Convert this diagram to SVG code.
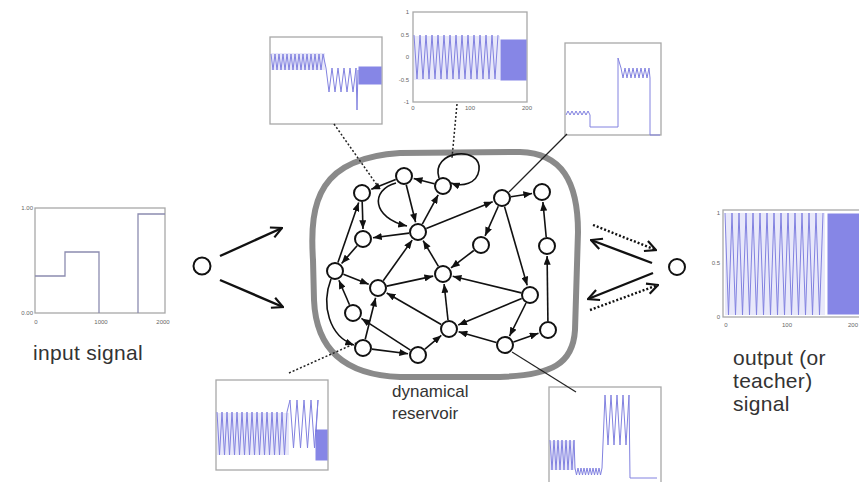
<svg xmlns="http://www.w3.org/2000/svg" width="859" height="482" viewBox="0 0 859 482">
<style>
.box{fill:#fff;stroke:#a8a8a8;stroke-width:1.3}
.sig{fill:none;stroke:#8282e0;stroke-width:1}
.blk{fill:#7272e2;stroke:#7272e2;stroke-width:1}
.lav{fill:#e8e8fa;stroke:none}
.ax{font-family:"Liberation Sans",Arial,sans-serif;font-size:6px;fill:#666}
.lbl{font-family:"Liberation Sans",Arial,sans-serif;font-size:21px;fill:#333;letter-spacing:0.3px}
.lbl2{font-family:"Liberation Sans",Arial,sans-serif;font-size:17px;fill:#333}
.node circle{fill:#fff;stroke:#111;stroke-width:2}
.e{fill:none;stroke:#111;stroke-width:1.6;marker-end:url(#ah)}
.big{fill:none;stroke:#111;stroke-width:2.4;marker-end:url(#av)}
.dot{fill:none;stroke:#222;stroke-width:1.5;stroke-dasharray:2,2}
.thin{fill:none;stroke:#222;stroke-width:1.2}
</style>
<defs>
<marker id="ah" viewBox="0 0 10 8" refX="10" refY="4" markerWidth="9" markerHeight="7" orient="auto" markerUnits="userSpaceOnUse">
<path d="M0,0 L10,4 L0,8 z" fill="#111"/>
</marker>
<marker id="av" viewBox="0 0 12 12" refX="11" refY="6" markerWidth="13" markerHeight="13" orient="auto" markerUnits="userSpaceOnUse">
<path d="M1,1 L11,6 L1,11" fill="none" stroke="#111" stroke-width="2"/>
</marker>
</defs>

<!-- reservoir boundary -->
<path id="reservoir" d="M313,260 C309,200 320,158 400,153 L520,152 C562,153 578,182 578,232 L575,330 C573,364 552,375 500,377 L400,377 C345,375 316,350 314,300 Z" fill="none" stroke="#8a8a8a" stroke-width="6"/>

<!-- input plot -->
<g id="plot-input">
<rect class="box" x="35" y="208" width="130" height="105"/>
<path d="M35,276 L65,276 L65,252 L99,252 L99,313" fill="none" stroke="#8c8cb0" stroke-width="1.3"/>
<path d="M138,313 L138,214 L165,214" fill="none" stroke="#8c8cb0" stroke-width="1.3"/>
<text class="ax" x="33" y="210" text-anchor="end">1.00</text>
<text class="ax" x="33" y="315" text-anchor="end">0.00</text>
<text class="ax" x="36" y="324" text-anchor="middle">0</text>
<text class="ax" x="101" y="324" text-anchor="middle">1000</text>
<text class="ax" x="163" y="324" text-anchor="middle">2000</text>
</g>
<text class="lbl" x="33" y="360">input signal</text>

<!-- input node -->
<g id="input-node" class="node"><circle cx="202" cy="266" r="8.5"/></g>

<!-- output node -->
<g id="output-node" class="node"><circle cx="677" cy="267" r="8"/></g>

<!-- output plot -->
<g id="plot-output">
<rect class="box" x="723" y="210" width="140" height="107"/>
<rect class="lav" x="725" y="213" width="100" height="102"/>
<path class="sig" stroke-width="1.6" d="M725,213 l3.5,102 l3.5,-102 l3.5,102 l3.5,-102 l3.5,102 l3.5,-102 l3.5,102 l3.5,-102 l3.5,102 l3.5,-102 l3.5,102 l3.5,-102 l3.5,102 l3.5,-102 l3.5,102 l3.5,-102 l3.5,102 l3.5,-102 l3.5,102 l3.5,-102 l3.5,102 l3.5,-102 l3.5,102 l3.5,-102 l3.5,102 l3.5,-102 l3.5,102 l3.5,-102"/>
<rect class="blk" x="828" y="214" width="31" height="100" opacity="0.85"/>
<text class="ax" x="720" y="215" text-anchor="end">1</text>
<text class="ax" x="720" y="265" text-anchor="end">0.5</text>
<text class="ax" x="720" y="319" text-anchor="end">0</text>
<text class="ax" x="726" y="327" text-anchor="middle">0</text>
<text class="ax" x="787" y="327" text-anchor="middle">100</text>
<text class="ax" x="858" y="327" text-anchor="end">200</text>
</g>
<text class="lbl" x="733" y="365">output (or</text>
<text class="lbl" x="733" y="388">teacher)</text>
<text class="lbl" x="733" y="411">signal</text>

<!-- reservoir activation plots -->
<g id="plot-top-left">
<rect class="box" x="270" y="37" width="112" height="87"/>
<rect class="lav" x="271" y="53" width="54" height="17"/>
<path class="sig" d="M271,54 l2,16 l2,-16 l2,16 l2,-16 l2,16 l2,-16 l2,16 l2,-16 l2,16 l2,-16 l2,16 l2,-16 l2,16 l2,-16 l2,16 l2,-16 l2,16 l2,-16 l2,16 l2,-16 l2,16 l2,-16 l2,16 l2,-16 l2,16 l2,-16 L326,68 l3,24 l3,-24 l3,24 l3,-24 l3,24 l3,-24 l3,24 l3,-24 l3,24 l3,-24 L357,110 L358,70"/>
<rect class="blk" x="359" y="67" width="22" height="17" opacity="0.85"/>
</g>

<g id="plot-top-center">
<rect class="box" x="413" y="12" width="114" height="90"/>
<rect class="lav" x="414" y="36" width="86" height="44"/>
<path class="sig" d="M414,35 l3,44 l3,-44 l3,44 l3,-44 l3,44 l3,-44 l3,44 l3,-44 l3,44 l3,-44 l3,44 l3,-44 l3,44 l3,-44 l3,44 l3,-44 l3,44 l3,-44 l3,44 l3,-44 l3,44 l3,-44 l3,44 l3,-44 l3,44 l3,-44 l3,44 l3,-44"/>
<rect class="blk" x="501" y="40" width="25" height="40" opacity="0.85"/>
<text class="ax" x="409" y="14" text-anchor="end">1</text>
<text class="ax" x="409" y="37" text-anchor="end">0.5</text>
<text class="ax" x="409" y="59" text-anchor="end">0</text>
<text class="ax" x="409" y="82" text-anchor="end">-0.5</text>
<text class="ax" x="409" y="104" text-anchor="end">-1</text>
<text class="ax" x="413" y="110" text-anchor="middle">0</text>
<text class="ax" x="470" y="110" text-anchor="middle">100</text>
<text class="ax" x="527" y="110" text-anchor="middle">200</text>
</g>

<g id="plot-top-right">
<rect class="box" x="565" y="43" width="96" height="92"/>
<path class="sig" d="M566,115 l2,-4 l2,4 l2,-4 l2,4 l2,-4 l2,4 l2,-4 l2,4 l2,-4 l2,4 l2,-4 l2,4 L590,127 L618,127 L618,58 L621,68 l2,10 l2,-10 l2,10 l2,-10 l2,10 l2,-10 l2,10 l2,-10 l2,10 l2,-10 l2,10 l2,-10 l2,10 l2,-10 L650,78 L650,135 L660,135"/>
</g>

<g id="plot-bottom-left">
<rect class="box" x="216" y="380" width="112" height="90"/>
<rect class="lav" x="217" y="413" width="72" height="42"/>
<path class="sig" d="M217,412 l2.5,43 l2.5,-43 l2.5,43 l2.5,-43 l2.5,43 l2.5,-43 l2.5,43 l2.5,-43 l2.5,43 l2.5,-43 l2.5,43 l2.5,-43 l2.5,43 l2.5,-43 l2.5,43 l2.5,-43 l2.5,43 l2.5,-43 l2.5,43 l2.5,-43 l2.5,43 l2.5,-43 l2.5,43 l2.5,-43 l2.5,43 l2.5,-43 l2.5,43 l2.5,-43 L290,400 l3.5,48 l3.5,-48 l3.5,48 l3.5,-48 l3.5,48 l3.5,-48 l3.5,48 l3.5,-48 L316,432"/>
<rect class="blk" x="316" y="430" width="11" height="30" opacity="0.85"/>
</g>

<g id="plot-bottom-right">
<rect class="box" x="549" y="387" width="112" height="100"/>
<rect class="lav" x="550" y="441" width="25" height="29"/>
<path class="sig" d="M550,440 l2,30 l2,-30 l2,30 l2,-30 l2,30 l2,-30 l2,30 l2,-30 l2,30 l2,-30 l2,30 l2,-30 L575,468 l1.5,7 l1.5,-7 l1.5,7 l1.5,-7 l1.5,7 l1.5,-7 l1.5,7 l1.5,-7 l1.5,7 l1.5,-7 l1.5,7 l1.5,-7 l1.5,7 l1.5,-7 l1.5,7 l1.5,-7 l1.5,7 l1.5,-7 L605,395 l3,50 l3,-50 l3,50 l3,-50 l3,50 l3,-50 l3,50 l3,-50 L630,478 L657,478"/>
</g>

<!-- connectors -->
<g id="connectors">
<line class="big" x1="220" y1="256" x2="282" y2="228"/>
<line class="big" x1="220" y1="280" x2="283" y2="307"/>
<line class="big" x1="593" y1="225" x2="656" y2="250" stroke-dasharray="2,2" stroke-width="2"/>
<line class="big" x1="652" y1="263" x2="591" y2="240" stroke-width="2"/>
<line class="big" x1="653" y1="273" x2="588" y2="299" stroke-width="2"/>
<line class="big" x1="590" y1="310" x2="658" y2="285" stroke-dasharray="2,2" stroke-width="2"/>

<line class="dot" x1="334" y1="124" x2="377" y2="185"/>
<line class="dot" x1="457" y1="104" x2="452" y2="158"/>
<line class="thin" x1="567" y1="134" x2="509" y2="192"/>
<line class="dot" x1="289" y1="373" x2="356" y2="343"/>
<line class="thin" x1="512" y1="352" x2="576" y2="392"/>

<line class="e" x1="395.7" y1="179.4" x2="371.3" y2="189.3"/>
<line class="e" x1="434.3" y1="183.8" x2="413.7" y2="178.5"/>
<line class="e" x1="406.2" y1="184.7" x2="415.6" y2="222.3"/>
<path class="e" d="M396,183 C370,190 372,218 407,226"/>
<line class="e" x1="362.2" y1="202" x2="363" y2="229"/>
<line class="e" x1="337.9" y1="262.5" x2="358.7" y2="202.5"/>
<line class="e" x1="409.1" y1="233.1" x2="373" y2="237.7"/>
<line class="e" x1="357.1" y1="245.8" x2="341.6" y2="263.5"/>
<line class="e" x1="383.2" y1="280.7" x2="412.2" y2="240.1"/>
<line class="e" x1="422.3" y1="224.1" x2="438.2" y2="194.8"/>
<line class="e" x1="426.3" y1="228.6" x2="492.7" y2="201.8"/>
<line class="e" x1="510.9" y1="196.7" x2="532.1" y2="193.5"/>
<line class="e" x1="498.3" y1="206.2" x2="485.1" y2="235.9"/>
<line class="e" x1="504.5" y1="206.6" x2="527.2" y2="285.4"/>
<line class="e" x1="546.2" y1="237" x2="542.9" y2="202"/>
<line class="e" x1="473.8" y1="250.5" x2="451" y2="267.9"/>
<line class="e" x1="343.4" y1="274.3" x2="368.7" y2="284.3"/>
<line class="e" x1="386.8" y1="286.1" x2="433.2" y2="276.1"/>
<line class="e" x1="349.5" y1="304.7" x2="338.9" y2="280.2"/>
<path class="e" d="M331,279 C321,305 329,336 354,345"/>
<line class="e" x1="441.2" y1="324.5" x2="386.7" y2="293"/>
<line class="e" x1="365.2" y1="339.3" x2="375.6" y2="297.7"/>
<line class="e" x1="410.4" y1="350.1" x2="361.4" y2="318.4"/>
<line class="e" x1="371.9" y1="349.1" x2="408.1" y2="353.7"/>
<line class="e" x1="424.9" y1="349.2" x2="441.3" y2="335.4"/>
<line class="e" x1="521.3" y1="292.9" x2="452.7" y2="276.3"/>
<line class="e" x1="448" y1="320" x2="444.1" y2="284"/>
<line class="e" x1="521.7" y1="298.5" x2="458.2" y2="325.1"/>
<line class="e" x1="496.3" y1="342.5" x2="458.6" y2="331.8"/>
<line class="e" x1="526" y1="303" x2="509.5" y2="336.1"/>
<line class="e" x1="513.5" y1="342" x2="538.5" y2="333.3"/>
<line class="e" x1="547.9" y1="321" x2="547.1" y2="256"/>
<line class="e" x1="438.4" y1="266.3" x2="423.1" y2="240.6"/>
<path class="e" d="M439,178 C430,150 482,145 479,170 C477,184 462,187 451,183"/>
</g>

<g id="n1" class="node"><circle cx="404" cy="176" r="8"/></g>
<g id="n2" class="node"><circle cx="443" cy="186" r="8"/></g>
<g id="n3" class="node"><circle cx="362" cy="193" r="8"/></g>
<g id="n4" class="node"><circle cx="418" cy="232" r="8"/></g>
<g id="n5" class="node"><circle cx="363" cy="239" r="8"/></g>
<g id="n6" class="node"><circle cx="502" cy="198" r="8"/></g>
<g id="n7" class="node"><circle cx="542" cy="192" r="8"/></g>
<g id="n8" class="node"><circle cx="481" cy="245" r="8"/></g>
<g id="n9" class="node"><circle cx="547" cy="246" r="8"/></g>
<g id="n10" class="node"><circle cx="335" cy="271" r="8"/></g>
<g id="n11" class="node"><circle cx="378" cy="288" r="8"/></g>
<g id="n12" class="node"><circle cx="443" cy="274" r="8"/></g>
<g id="n13" class="node"><circle cx="530" cy="295" r="8"/></g>
<g id="n14" class="node"><circle cx="353" cy="313" r="8"/></g>
<g id="n15" class="node"><circle cx="363" cy="348" r="8"/></g>
<g id="n16" class="node"><circle cx="449" cy="329" r="8"/></g>
<g id="n17" class="node"><circle cx="418" cy="355" r="8"/></g>
<g id="n18" class="node"><circle cx="505" cy="345" r="8"/></g>
<g id="n19" class="node"><circle cx="548" cy="330" r="8"/></g>

<text class="lbl2" x="392" y="397">dynamical</text>
<text class="lbl2" x="392" y="419">reservoir</text>
</svg>
